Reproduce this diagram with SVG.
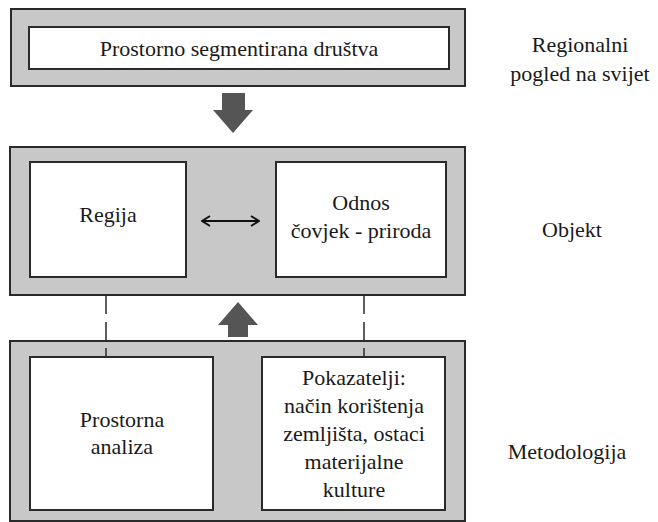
<svg xmlns="http://www.w3.org/2000/svg" width="658" height="522" viewBox="0 0 658 522">
<style>
.outer{fill:#c8c8c8;stroke:#2a2a2a;stroke-width:2}
.inner{fill:#ffffff;stroke:#2a2a2a;stroke-width:2}
.dash{stroke:#2a2a2a;stroke-width:1.5;stroke-dasharray:18 8;fill:none}
.blk{fill:#555555}
</style>
<defs>
<marker id="ah" markerWidth="10" markerHeight="12" refX="9" refY="6" orient="auto-start-reverse" markerUnits="userSpaceOnUse">
<path d="M1,1 L9,6 L1,11" fill="none" stroke="#111" stroke-width="2"/>
</marker>
</defs>
<rect width="658" height="522" fill="#ffffff"/>
<g font-family="Times New Roman, Liberation Serif, serif" font-size="22" fill="#1a1a1a" text-anchor="middle">
<g id="regionalni">
<rect class="outer" x="11" y="9" width="454" height="77"/>
<rect class="inner" x="29" y="27" width="420" height="42"/>
<text x="239" y="56">Prostorno segmentirana društva</text>
</g>
<g id="objekt">
<rect class="outer" x="10" y="147" width="455" height="148"/>
</g>
<g id="regija">
<rect class="inner" x="30" y="162" width="156" height="115"/>
<text x="108" y="222">Regija</text>
</g>
<g id="odnos">
<rect class="inner" x="276" y="162" width="170" height="115"/>
<text x="361" y="210">Odnos</text>
<text x="361" y="238">čovjek - priroda</text>
</g>
<g id="metodologija">
<rect class="outer" x="10" y="341" width="455" height="180"/>
</g>
<g id="prostorna">
<rect class="inner" x="30" y="357" width="183" height="153"/>
<text x="122" y="427">Prostorna</text>
<text x="122" y="454">analiza</text>
</g>
<g id="pokazatelji">
<rect class="inner" x="262" y="357" width="183" height="153"/>
<text x="354" y="385">Pokazatelji:</text>
<text x="354" y="413">način korištenja</text>
<text x="354" y="441">zemljišta, ostaci</text>
<text x="354" y="469">materijalne</text>
<text x="354" y="497">kulture</text>
</g>
<g id="labels">
<text x="580" y="52">Regionalni</text>
<text x="580" y="81">pogled na svijet</text>
<text x="572" y="237">Objekt</text>
<text x="567" y="459">Metodologija</text>
</g>
</g>
<g id="connectors">
<polygon class="blk" points="222,93 245,93 245,110 253,110 233,133 213,110 222,110"/>
<polygon class="blk" points="238,302 258,325 248,325 248,337 228,337 228,325 218,325"/>
<line x1="202" y1="221" x2="259" y2="221" stroke="#111" stroke-width="2" marker-start="url(#ah)" marker-end="url(#ah)"/>
<line class="dash" x1="106" y1="296" x2="106" y2="356"/>
<line class="dash" x1="364" y1="296" x2="364" y2="356"/>
</g>
</svg>
